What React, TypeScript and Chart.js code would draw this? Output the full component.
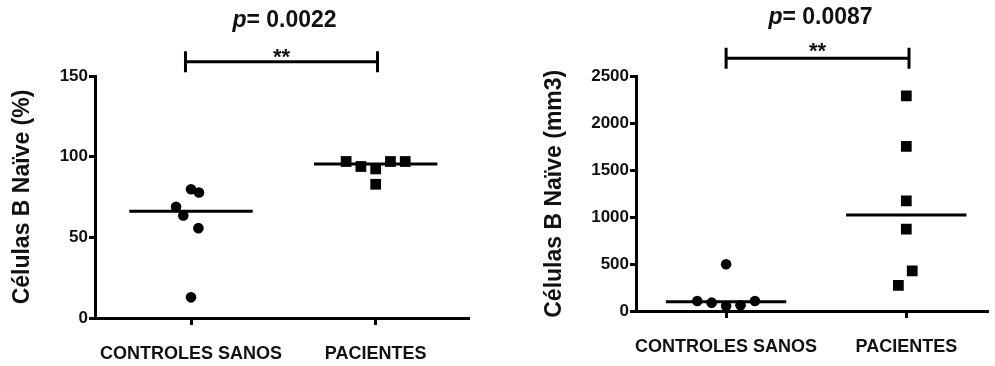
import React, { useEffect, useRef } from "react";
import { Chart, registerables } from "chart.js";

Chart.register(...registerables);

const FONT = '"Liberation Sans", Arial, Helvetica, sans-serif';
const INK = "#111111";

// ---------- DATA ----------
const categories = ["CONTROLES SANOS", "PACIENTES"];

// Panel A: Células B Naïve (%)
const pctControls = [79.8, 77.8, 68.9, 63.5, 55.7, 12.8];
const pctControlsJitter = [0, 0.043, -0.081, -0.042, 0.04, 0];
const pctPatients = [97.0, 93.9, 92.4, 82.9, 97.0, 97.0];
const pctPatientsJitter = [-0.16, -0.08, 0, 0, 0.08, 0.16];
const pctAxis = [0, 150, 50]; // min, max, step
const pctP = "0.0022";
const pctStars = "**";

// Panel B: Células B Naïve (mm3)
const mm3Controls = [498, 107, 89, 53, 60, 107];
const mm3ControlsJitter = [0, -0.16, -0.08, 0, 0.08, 0.16];
const mm3Patients = [2293, 1756, 1175, 872, 427, 274];
const mm3PatientsJitter = [0, 0, 0, 0, 0.033, -0.044];
const mm3Axis = [0, 2500, 500];
const mm3P = "0.0087";
const mm3Stars = "**";

function median(a: number[]): number {
  const s = [...a].sort((x, y) => x - y);
  const m = Math.floor(s.length / 2);
  return s.length % 2 ? s[m] : (s[m - 1] + s[m]) / 2;
}

type PanelProps = {
  width: number;
  height: number;
  yTitle: string;
  axis: number[];
  controls: number[];
  controlsJitter: number[];
  patients: number[];
  patientsJitter: number[];
  pValue: string;
  stars: string;
  xMin: number;
  xMax: number;
  yAxisWidth: number;
  xAxisHeight: number;
  padTop: number;
  padRight: number;
  titlePad: number;
  titleY: number;
  starsBaseline: number;
  bracketY: number;
  bracketX: number[];
};

function Panel(p: PanelProps) {
  const ref = useRef<HTMLCanvasElement | null>(null);

  useEffect(() => {
    if (!ref.current) return;
    const half = 0.334;
    const medC = median(p.controls);
    const medP = median(p.patients);

    const bracketPlugin = {
      id: "bracket",
      afterDraw(chart: any) {
        const ctx = chart.ctx;
        const xs = chart.scales.x;
        const x1 = xs.getPixelForValue(p.bracketX[0]);
        const x2 = xs.getPixelForValue(p.bracketX[1]);
        const y = p.bracketY;
        ctx.save();
        ctx.strokeStyle = "#000";
        ctx.lineWidth = 3;
        ctx.beginPath();
        ctx.moveTo(x1, y);
        ctx.lineTo(x2, y);
        ctx.moveTo(x1, y - 10.5);
        ctx.lineTo(x1, y + 10.5);
        ctx.moveTo(x2, y - 10.5);
        ctx.lineTo(x2, y + 10.5);
        ctx.stroke();
        const cx = (x1 + x2) / 2;
        ctx.fillStyle = INK;
        ctx.textAlign = "center";
        ctx.textBaseline = "alphabetic";
        ctx.font = `bold 22px ${FONT}`;
        ctx.fillText(p.stars, cx, p.starsBaseline);
        // title: italic p + "= value"
        const f1 = `italic bold 23px ${FONT}`;
        const f2 = `bold 23px ${FONT}`;
        const t1 = "p";
        const t2 = "= " + p.pValue;
        ctx.font = f1;
        const w1 = ctx.measureText(t1).width;
        ctx.font = f2;
        const w2 = ctx.measureText(t2).width;
        const start = cx - (w1 + w2) / 2 + 3;
        ctx.textAlign = "left";
        ctx.textBaseline = "middle";
        ctx.font = f1;
        ctx.fillText(t1, start, p.titleY);
        ctx.font = f2;
        ctx.fillText(t2, start + w1, p.titleY);
        ctx.restore();
      },
    };

    const chart = new Chart(ref.current, {
      type: "scatter",
      data: {
        datasets: [
          {
            data: p.controls.map((v, i) => ({ x: 1 + p.controlsJitter[i], y: v })),
            pointStyle: "circle",
            pointRadius: 5.3,
            backgroundColor: "#000",
            borderColor: "#000",
            borderWidth: 0,
          },
          {
            data: p.patients.map((v, i) => ({ x: 2 + p.patientsJitter[i], y: v })),
            pointStyle: "rect",
            pointRadius: 7.6,
            backgroundColor: "#000",
            borderColor: "#000",
            borderWidth: 0,
          },
          {
            data: [
              { x: 1 - half, y: medC },
              { x: 1 + half, y: medC },
            ],
            showLine: true,
            borderColor: "#000",
            borderWidth: 3,
            pointRadius: 0,
          },
          {
            data: [
              { x: 2 - half, y: medP },
              { x: 2 + half, y: medP },
            ],
            showLine: true,
            borderColor: "#000",
            borderWidth: 3,
            pointRadius: 0,
          },
        ],
      },
      options: {
        animation: false,
        responsive: false,
        devicePixelRatio: 1,
        layout: { padding: { top: p.padTop, right: p.padRight, left: 0, bottom: 0 } },
        plugins: { legend: { display: false }, tooltip: { enabled: false } },
        scales: {
          x: {
            type: "linear",
            min: p.xMin,
            max: p.xMax,
            afterBuildTicks: (s: any) => {
              s.ticks = [{ value: 1 }, { value: 2 }];
            },
            afterFit: (s: any) => {
              s.height = p.xAxisHeight;
            },
            ticks: {
              callback: (v: any) => categories[Math.round(Number(v)) - 1] ?? "",
              font: { family: FONT, size: 18, weight: "bold" },
              color: INK,
              padding: 18,
              maxRotation: 0,
              autoSkip: false,
            },
            grid: {
              display: true,
              drawOnChartArea: false,
              drawTicks: true,
              tickLength: 7,
              color: "#000",
              lineWidth: 3,
            },
            border: { display: true, color: "#000", width: 3 },
          },
          y: {
            type: "linear",
            min: p.axis[0],
            max: p.axis[1],
            afterFit: (s: any) => {
              s.width = p.yAxisWidth;
            },
            ticks: {
              stepSize: p.axis[2],
              callback: (v: any) => String(v),
              font: { family: FONT, size: 17, weight: "bold" },
              color: INK,
              padding: 1,
            },
            grid: {
              display: true,
              drawOnChartArea: false,
              drawTicks: true,
              tickLength: 6,
              color: "#000",
              lineWidth: 3,
            },
            border: { display: true, color: "#000", width: 3 },
            title: {
              display: true,
              text: p.yTitle,
              font: { family: FONT, size: 23, weight: "bold" },
              color: INK,
              padding: { top: p.titlePad, bottom: 0 },
            },
          },
        },
      },
      plugins: [bracketPlugin],
    } as any);

    return () => chart.destroy();
  }, []);

  return (
    <canvas
      ref={ref}
      width={p.width}
      height={p.height}
      style={{ width: p.width, height: p.height, display: "block" }}
    />
  );
}

export default function App() {
  return (
    <div
      style={{
        position: "fixed",
        left: 0,
        top: 0,
        width: 995,
        height: 366,
        background: "#fff",
      }}
    >
      <div style={{ position: "absolute", left: 0, top: 0 }}>
        <Panel
          width={480}
          height={366}
          yTitle="Células B Naïve (%)"
          axis={pctAxis}
          controls={pctControls}
          controlsJitter={pctControlsJitter}
          patients={pctPatients}
          patientsJitter={pctPatientsJitter}
          pValue={pctP}
          stars={pctStars}
          xMin={0.48}
          xMax={2.5}
          yAxisWidth={95}
          xAxisHeight={48}
          padTop={76}
          padRight={12}
          titlePad={9}
          titleY={21}
          starsBaseline={64}
          bracketY={61.7}
          bracketX={[0.97, 2.01]}
        />
      </div>
      <div style={{ position: "absolute", left: 500, top: 0 }}>
        <Panel
          width={495}
          height={366}
          yTitle="Células B Naïve (mm3)"
          axis={mm3Axis}
          controls={mm3Controls}
          controlsJitter={mm3ControlsJitter}
          patients={mm3Patients}
          patientsJitter={mm3PatientsJitter}
          pValue={mm3P}
          stars={mm3Stars}
          xMin={0.5}
          xMax={2.45}
          yAxisWidth={136}
          xAxisHeight={55}
          padTop={76.5}
          padRight={2}
          titlePad={41}
          titleY={18}
          starsBaseline={58}
          bracketY={58.3}
          bracketX={[1, 2.015]}
        />
      </div>
    </div>
  );
}
